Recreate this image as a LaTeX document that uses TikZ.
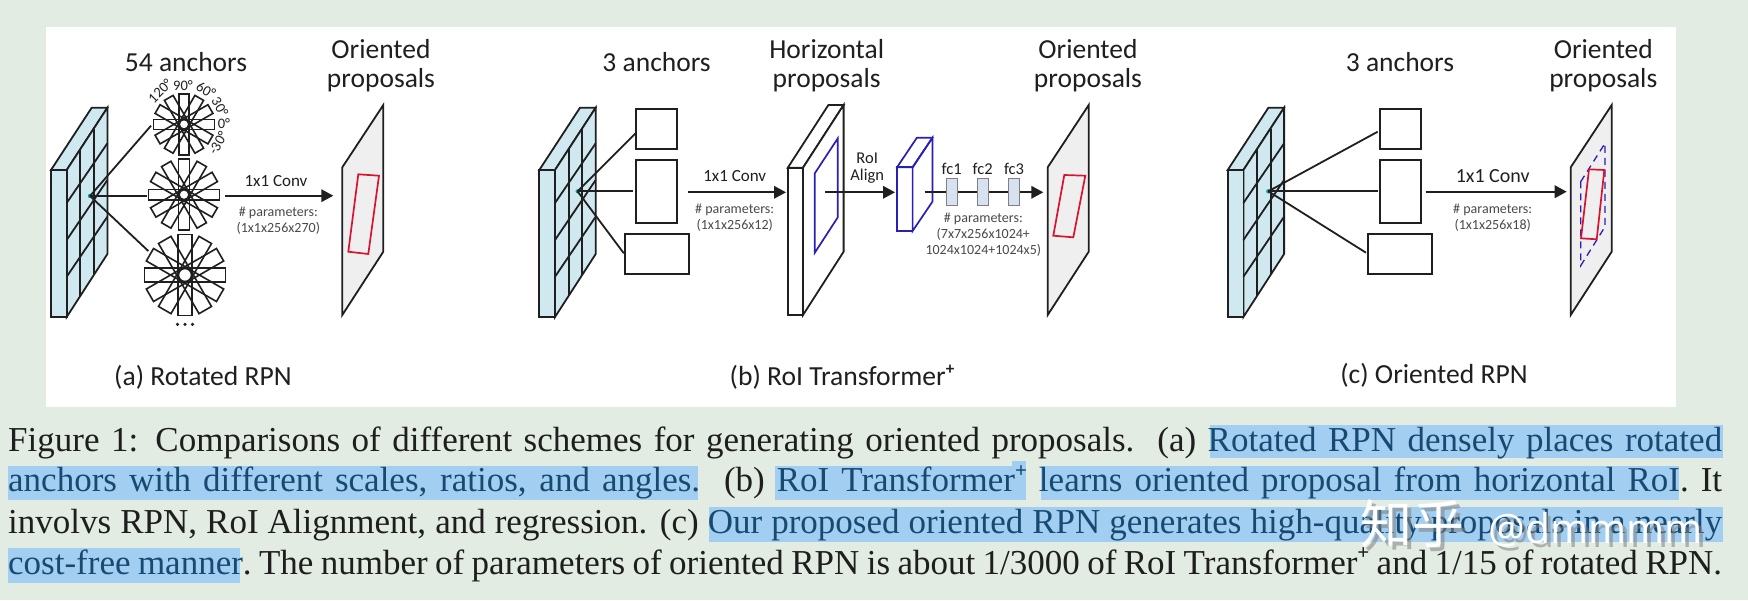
\documentclass[tikz,border=0pt]{standalone}
\usepackage{fontspec}
\setmainfont{Carlito}
\newfontfamily\capfont{Liberation Serif}
\newfontfamily\cjkwm{Noto Sans CJK SC}
\newfontfamily\latwm{Open Sans}
\usetikzlibrary{arrows.meta}
\definecolor{pagebg}{HTML}{E3ECE2}
\definecolor{hlblue}{HTML}{A2CFF1}
\definecolor{hltext}{HTML}{174A73}
\definecolor{capink}{HTML}{1E1E1E}
\definecolor{prismfill}{HTML}{D0E9F1}
\definecolor{planefill}{HTML}{EFEFEF}
\definecolor{fcfill}{HTML}{D6E1F1}
\definecolor{roiblue}{HTML}{2A1FB5}
\definecolor{propred}{HTML}{D9122F}
\definecolor{ink}{HTML}{1F1F1F}
\definecolor{smallink}{HTML}{4A4A4A}
\newcommand\fsz[1]{\fontsize{#1}{#1}\selectfont}
\tikzset{
  solidedge/.style={draw=ink,line width=1.8pt,line join=miter},
  conn/.style={draw=ink,line width=1.8pt},
  flow/.style={draw=ink,line width=1.8pt,-{Triangle[length=12pt,width=12.5pt]}},
  anchorbox/.style={draw=ink,line width=1.8pt,fill=white,inner sep=0pt},
  fcbox/.style={draw=gray,line width=1.2pt,fill=fcfill,inner sep=0pt,minimum width=11pt,minimum height=27pt},
  titlelabel/.style={text=ink,inner sep=0pt,align=center,font=\fsz{27.5}},
  midlabel/.style={text=ink,inner sep=0pt,align=center,font=\fsz{17}},
  smalllabel/.style={text=smallink,inner sep=0pt,align=center,font=\fsz{14}},
  deg/.style={text=ink,inner sep=0pt,font=\fsz{14.5}},
  sublabel/.style={text=ink,inner sep=0pt,font=\fsz{27.6}},
  capline/.style={inner sep=0pt,anchor=base west,text=capink,font=\capfont\fsz{35}},
  hlbar/.style={fill=hlblue,draw=none},
  redbox/.style={draw=propred,line width=1.7pt},
  blueedge/.style={draw=roiblue,line width=1.7pt},
  wmark/.style={inner sep=0pt,anchor=base west,text=white}
}
\newcommand\featprism[1]{%
  \begin{scope}[shift={(#1,0)}]
    \draw[solidedge,fill=prismfill] (15.7,170) -- (56.4,107.7) -- (40.7,107.7) -- (0,170) -- cycle;
    \draw[solidedge,fill=prismfill] (15.7,170) -- (56.4,107.7) -- (56.4,254) -- (15.7,317) -- cycle;
    \draw[solidedge,fill=prismfill] (0,170) rectangle (15.7,317);
    \draw[solidedge] (29.3,149.3) -- (29.3,296) (43,128.5) -- (43,275);
    \draw[solidedge] (15.7,203) -- (56.4,143.3) (15.7,240) -- (56.4,180) (15.7,276.7) -- (56.4,216.7);
  \end{scope}}
\newcommand\rosette[5]{% x y halflength halfwidth hole
  \foreach \ang in {0,30,...,150}
    \draw[draw=ink,line width=1.6pt,shift={(#1,#2)},rotate=\ang] (-#3,-#4) rectangle (#3,#4);
  \draw[draw=ink,line width=1.6pt,fill=white] (#1,#2) circle (#5);}
\newcommand\pplane[1]{%
  \draw[solidedge,fill=planefill] (#1,167.3) -- (#1+41,105) -- (#1+41,251.7) -- (#1,315) -- cycle;}
\newcommand\supplus{\raisebox{.42em}{\fsz{21}\textbf{+}}}
\begin{document}
\begin{tikzpicture}[x=1pt,y=-1pt]
\useasboundingbox (0,0) rectangle (1748,600);
\fill[pagebg] (0,0) rectangle (1748,600);
\fill[white] (46,27) rectangle (1676,407);

% ---------- (a)
\featprism{51}
\rosette{184}{124.3}{30.5}{5}{4.8}
\rosette{184}{194.7}{35.5}{5.4}{5}
\rosette{185}{275}{40.5}{7.2}{6.5}
\coordinate (oa) at (90,196);
\coordinate (ra1) at (151,125.7);
\coordinate (ra2) at (146.7,196);
\coordinate (ra3) at (148.3,251);
\fill[teal!70!cyan] (oa) circle (2.2);
\draw[conn] (oa) -- (ra1);
\draw[conn] (oa) -- (ra2);
\draw[conn] (oa) -- (ra3);
\node[titlelabel] (ta1) at (186,62) {54 anchors};
\node[titlelabel] (ta2) at (381,66) {Oriented\\[1.2pt]proposals};
\node[deg,rotate=45] (d120) at (160,91) {120°};
\node[deg] (d90) at (183,86) {90°};
\node[deg,rotate=-30] (d60) at (206,90) {60°};
\node[deg,rotate=-60] (d30) at (220,107) {30°};
\node[deg] (d0) at (224,124) {0°};
\node[deg,rotate=60] (dm30) at (218,143) {-30°};
\foreach \i/\dx in {1/-7.5,2/0,3/7.5}
  \fill[ink] (185+\dx,324.3) circle (1.8);
\coordinate (fa1) at (225,195.7);
\coordinate (fa2) at (333.3,195.7);
\pplane{342.3}
\draw[flow] (fa1) -- (fa2);
\node[midlabel] (ca) at (276,181) {1x1 Conv};
\node[smalllabel] (pa) at (278.3,221) {\# parameters:\\[2pt](1x1x256x270)};
\draw[redbox] (358.3,174.3) -- (379,175.7) -- (368.3,254) -- (348.3,251.7) -- cycle;
\node[sublabel] (la) at (203,377) {(a) Rotated RPN};

% ---------- (b)
\featprism{539.3}
\coordinate (ob) at (577.5,191.3);
\fill[teal!70!cyan] (ob) circle (2);
\node[anchorbox,minimum width=40.6pt,minimum height=40pt] (b1) at (656.6,129.3) {};
\node[anchorbox,minimum width=40.6pt,minimum height=63.3pt] (b2) at (656.6,191.7) {};
\node[anchorbox,minimum width=63.9pt,minimum height=40.3pt] (b3) at (656.7,254.2) {};
\coordinate (rb1) at (635.6,133.3);
\coordinate (rb2) at (633.3,191.3);
\coordinate (rb3) at (623.8,253.3);
\draw[conn] (ob) -- (rb1);
\draw[conn] (ob) -- (rb2);
\draw[conn] (ob) -- (rb3);
\node[titlelabel] (tb1) at (656.6,62) {3 anchors};
\node[titlelabel] (tb2) at (826.7,66) {Horizontal\\[1.2pt]proposals};
\coordinate (fb1) at (688,192.3);
\coordinate (fb2) at (786,192.3);
\draw[solidedge,fill=white] (803,167.7) -- (843.6,105) -- (828.4,105) -- (787.8,167.7) -- cycle;
\draw[solidedge,fill=white] (803,167.7) -- (843.6,105) -- (843.6,251.7) -- (803,315) -- cycle;
\draw[solidedge,fill=white] (787.8,167.7) rectangle (803,315);
\draw[blueedge] (814.8,173.3) -- (837.8,138.3) -- (837.8,217.3) -- (814.8,252.7) -- cycle;
\draw[flow] (fb1) -- (fb2);
\node[midlabel] (cb) at (734.7,176) {1x1 Conv};
\node[smalllabel] (pb) at (734.7,218) {\# parameters:\\[2pt](1x1x256x12)};
\coordinate (fc1s) at (825,192.3);
\coordinate (fc1e) at (895,192.3);
\draw[flow] (fc1s) -- (fc1e);
\node[midlabel,font=\fsz{16.5}] (roi) at (867.2,168.5) {RoI\\[.5pt]Align};
\draw[blueedge] (912.6,167.3) -- (932.4,137.7) -- (916.9,137.7) -- (897,167.3) -- cycle;
\draw[blueedge] (912.6,167.3) -- (932.4,137.7) -- (932.4,201.7) -- (912.6,231) -- cycle;
\draw[blueedge] (897,167.3) rectangle (912.6,231);
\coordinate (fc2s) at (924.5,192.3);
\coordinate (fc2e) at (1043.3,192.3);
\draw[flow] (fc2s) -- (fc2e);
\node[fcbox] (f1) at (952.3,192) {};
\node[fcbox] (f2) at (983.2,192) {};
\node[fcbox] (f3) at (1014.2,192) {};
\node[midlabel,font=\fsz{16.5}] (f1t) at (951.7,169) {fc1};
\node[midlabel,font=\fsz{16.5}] (f2t) at (982.7,169) {fc2};
\node[midlabel,font=\fsz{16.5}] (f3t) at (1014,169) {fc3};
\node[smalllabel] (pfc) at (983.3,235) {\# parameters:\\[2pt](7x7x256x1024+\\[2pt]1024x1024+1024x5)};
\pplane{1047.7}
\draw[redbox] (1064.3,175) -- (1085.3,175.7) -- (1073.3,237.3) -- (1053.3,235.7) -- cycle;
\node[titlelabel] (tb3) at (1088,66) {Oriented\\[1.2pt]proposals};
\node[sublabel] (lb) at (842,377) {(b) RoI Transformer\raisebox{.42em}{\fsz{17}\textbf{+}}};

% ---------- (c)
\featprism{1227.7}
\coordinate (oc) at (1268.3,191.3);
\fill[teal!70!cyan] (oc) circle (2.2);
\node[anchorbox,minimum width=40.7pt,minimum height=40pt] (c1) at (1400.3,129.3) {};
\node[anchorbox,minimum width=40.7pt,minimum height=63.3pt] (c2) at (1400.3,191.7) {};
\node[anchorbox,minimum width=64.3pt,minimum height=40.3pt] (c3) at (1399.8,254.2) {};
\coordinate (rc1) at (1377.7,131.7);
\coordinate (rc2) at (1377.7,191.3);
\coordinate (rc3) at (1366,252.7);
\draw[conn] (oc) -- (rc1);
\draw[conn] (oc) -- (rc2);
\draw[conn] (oc) -- (rc3);
\node[titlelabel] (tc1) at (1400,62) {3 anchors};
\node[titlelabel] (tc2) at (1603.3,66) {Oriented\\[1.2pt]proposals};
\coordinate (fc3s) at (1425.7,191.7);
\coordinate (fc3e) at (1566.7,191.7);
\pplane{1570.7}
\draw[flow] (fc3s) -- (fc3e);
\node[midlabel,font=\fsz{20}] (cc) at (1492.7,176) {1x1 Conv};
\node[smalllabel] (pc) at (1492.7,218) {\# parameters:\\[2pt](1x1x256x18)};
\draw[blueedge,line width=1.3pt,dash pattern=on 7pt off 5pt] (1580.7,181.7) -- (1605,143.3) -- (1605,226.7) -- (1580.7,265.7) -- cycle;
\draw[redbox] (1589,169.3) -- (1604.3,170) -- (1596.7,239.3) -- (1581,238.3) -- cycle;
\node[sublabel] (lc) at (1434,375) {(c) Oriented RPN};

% ---------- caption
\fill[hlbar] (1210,425) rectangle (1722.7,458);
\fill[hlbar] (8,466) rectangle (698,500);
\fill[hlbar] (775,466) rectangle (1012,500);
\fill[hlbar] (1012,461) rectangle (1026,500);
\fill[hlbar] (1041,466) rectangle (1679,500);
\fill[hlbar] (709,507) rectangle (1722.7,541.7);
\fill[hlbar] (8,548.3) rectangle (240,582.7);
\node[capline] (l1) at (8,451) {\hbox to 1714pt{Figure 1: Comparisons of different schemes for generating oriented proposals.\ \ (a) \textcolor{hltext}{Rotated RPN densely places rotated}}};
\node[capline] (l2) at (8,491.7) {\hbox to 1714pt{\textcolor{hltext}{anchors with different scales, ratios, and angles.}\ \ (b) \textcolor{hltext}{RoI Transformer\supplus{} learns oriented proposal from horizontal RoI}. It}};
\node[capline] (l3) at (8,533) {\hbox to 1714pt{involvs RPN, RoI Alignment, and regression. (c) \textcolor{hltext}{Our proposed oriented RPN generates high-quality proposals in a nearly}}};
\node[capline] (l4) at (8,574.5) {\hbox to 1714pt{\frenchspacing\textcolor{hltext}{cost-free manner}. The number of parameters of oriented RPN is about 1/3000 of RoI Transformer\supplus{} and 1/15 of rotated RPN.}};
% ---------- watermark
\node[wmark,font=\cjkwm\fsz{52},text=gray,opacity=.55] (wms) at (1364,547) {知乎};
\node[wmark,font=\latwm\fsz{41},text=gray,opacity=.55] (wmt) at (1492,547) {@dmmmm};
\node[wmark,font=\cjkwm\fsz{52}] (wm1) at (1360,543) {知乎};
\node[wmark,font=\latwm\fsz{41}] (wm2) at (1488,543) {@dmmmm};
\end{tikzpicture}
\end{document}
